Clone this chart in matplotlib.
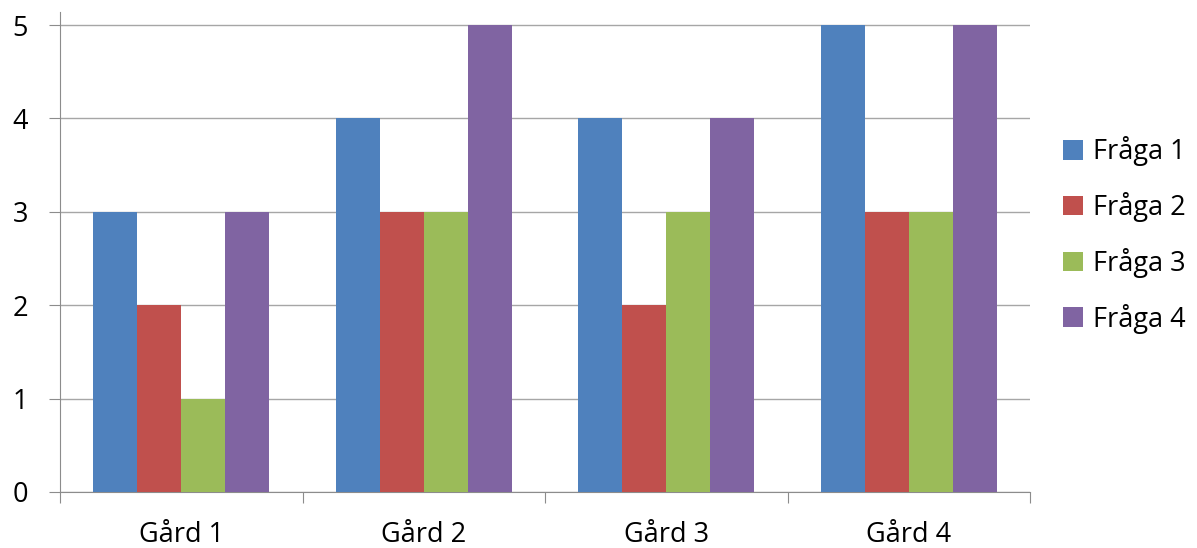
import numpy as np
import matplotlib
matplotlib.use("Agg")
import matplotlib.pyplot as plt

farms = ["Gård 1", "Gård 2", "Gård 3", "Gård 4"]
series_names = ["Fråga 1", "Fråga 2", "Fråga 3", "Fråga 4"]
fraga1 = [3, 4, 4, 5]
fraga2 = [2, 3, 2, 3]
fraga3 = [1, 3, 3, 3]
fraga4 = [3, 5, 4, 5]
colors = ["#4F81BD", "#C0504D", "#9BBB59", "#8064A2"]

plt.rcParams["font.family"] = ["Open Sans", "DejaVu Sans"]

W, H = 1197, 548
fig = plt.figure(figsize=(W / 100, H / 100), dpi=100)
ax = fig.add_axes([60 / W, (H - 492) / H, (1030 - 60) / W, (492 - 12) / H])

x = np.arange(len(farms))
bw = 44 / 242.5
for i, (vals, name) in enumerate(zip([fraga1, fraga2, fraga3, fraga4], series_names)):
    ax.bar(x + (i - 1.5) * bw, vals, width=bw, color=colors[i], label=name, zorder=3)

ax.set_xlim(-0.5, len(farms) - 0.5)
ax.set_ylim(0, 5 + 13 / 93.4)
ax.set_yticks(range(6))
ax.yaxis.grid(True, color="#A6A6A6", linewidth=1.0, zorder=0)
ax.tick_params(axis="y", length=8, color="#8C8C8C", labelsize=19.5, pad=15)

ax.set_xticks(np.arange(-0.5, len(farms)), labels=[])
ax.set_xticks(x, labels=farms, minor=True)
ax.tick_params(axis="x", which="major", length=8, color="#8C8C8C")
ax.tick_params(axis="x", which="minor", length=0, labelsize=19.5, pad=21)

for s in ["top", "right"]:
    ax.spines[s].set_visible(False)
for s in ["left", "bottom"]:
    ax.spines[s].set_color("#8C8C8C")

ax.legend(loc="center left", bbox_to_anchor=((1063 - 60) / 970, (492 - 235) / 480),
          frameon=False, borderaxespad=0, borderpad=0,
          fontsize=19.5, handlelength=0.72, handleheight=0.72, handletextpad=0.4,
          labelspacing=0.95)

fig.savefig("out.png", dpi=100)
